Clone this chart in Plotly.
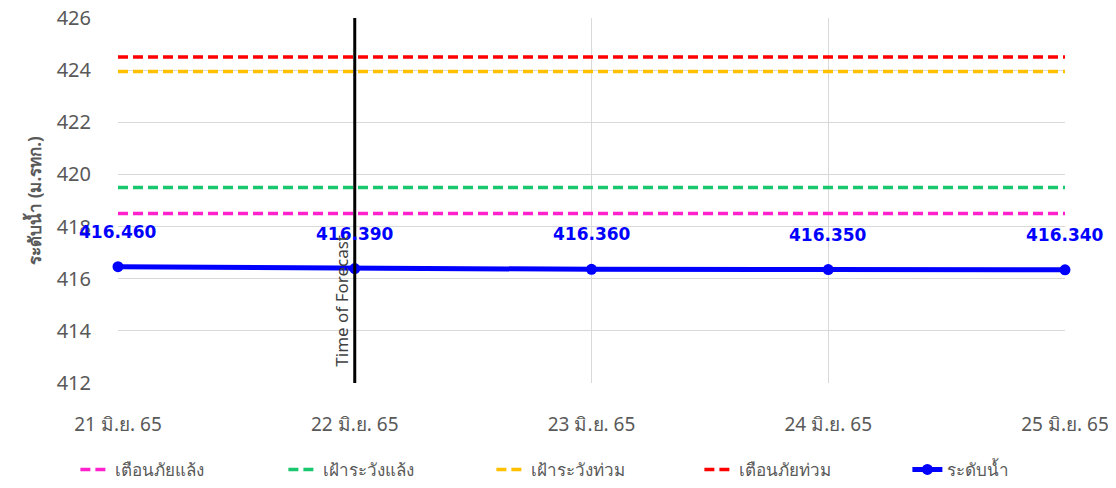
import plotly.graph_objects as go

dates = ["21 มิ.ย. 65", "22 มิ.ย. 65", "23 มิ.ย. 65", "24 มิ.ย. 65", "25 มิ.ย. 65"]
water_level = [416.46, 416.39, 416.36, 416.35, 416.34]
drought_warning = [418.5] * 5      # เตือนภัยแล้ง
drought_watch = [419.5] * 5        # เฝ้าระวังแล้ง
flood_watch = [423.95] * 5         # เฝ้าระวังท่วม
flood_warning = [424.5] * 5        # เตือนภัยท่วม
forecast_date = "22 มิ.ย. 65"
y_ticks = [412, 414, 416, 418, 420, 422, 424, 426]

FONT = "Tahoma, 'Noto Sans', sans-serif"

fig = go.Figure()
thresholds = [
    ("เตือนภัยแล้ง", drought_warning, "#ff22cc"),
    ("เฝ้าระวังแล้ง", drought_watch, "#19c86e"),
    ("เฝ้าระวังท่วม", flood_watch, "#ffc000"),
    ("เตือนภัยท่วม", flood_warning, "#ff0000"),
]
for name, vals, col in thresholds:
    fig.add_trace(go.Scatter(x=dates, y=vals, name=name, mode="lines",
                             line=dict(color=col, width=3.5, dash="10px,5px"),
                             hoverinfo="skip", cliponaxis=False))

fig.add_trace(go.Scatter(x=dates, y=water_level, name="ระดับน้ำ", mode="lines+markers",
                         line=dict(color="#0000ff", width=5),
                         marker=dict(color="#0000ff", size=11),
                         cliponaxis=False))

for d, v in zip(dates, water_level):
    fig.add_annotation(x=d, y=v, xref="x", yref="y", text=f"<b>{v:.3f}</b>", showarrow=False,
                       yshift=35, font=dict(color="#0000ff", size=17, family="Tahoma, 'DejaVu Sans', sans-serif"))

fig.add_shape(type="line", xref="x", yref="paper", x0=forecast_date, x1=forecast_date, y0=0, y1=1,
              line=dict(color="#000000", width=3))
fig.add_annotation(x=forecast_date, y=0.04, xref="x", yref="paper", text="Time of Forecast",
                   textangle=-90, showarrow=False, xanchor="right", yanchor="bottom", xshift=0,
                   font=dict(size=17, color="#404040", family=FONT))

fig.update_layout(
    width=1108, height=480,
    margin=dict(l=110, r=51, t=10, b=105, autoexpand=False),
    paper_bgcolor="white", plot_bgcolor="white",
    font=dict(family=FONT, color="#595959", size=16),
    showlegend=True,
    legend=dict(orientation="h", x=-0.045, xanchor="left", y=-0.238, yanchor="middle",
                entrywidth=163, font=dict(size=17, color="#595959")),
    xaxis=dict(type="category", range=[0, 4], showgrid=True, gridcolor="#d9d9d9", gridwidth=1,
               zeroline=False, showline=False, ticks="", ticklabelstandoff=28, automargin=False,
               ticklabeloverflow="allow", tickfont=dict(size=19, color="#595959")),
    yaxis=dict(range=[412, 426], tickvals=y_ticks, showgrid=True, gridcolor="#d9d9d9", gridwidth=1,
               zeroline=False, showline=False, ticks="", ticklabelstandoff=26, automargin=False,
               ticklabeloverflow="allow", tickfont=dict(size=20, color="#595959"),
               title=dict(text="<b>ระดับน้ำ (ม.รทก.)</b>", standoff=10, font=dict(size=17, color="#595959"))),
)

fig.write_html("out.html")
